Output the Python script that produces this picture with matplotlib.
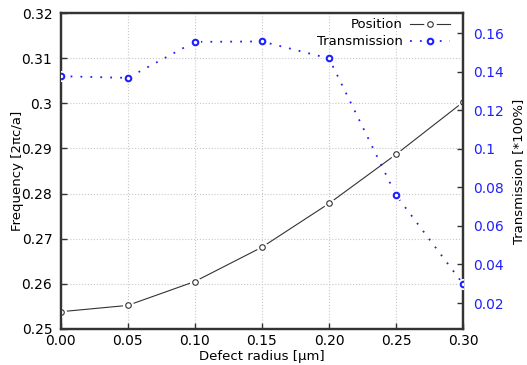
import matplotlib
matplotlib.use("Agg")
import matplotlib.pyplot as plt
from matplotlib.ticker import FormatStrFormatter, FuncFormatter

radius = [0.00, 0.05, 0.10, 0.15, 0.20, 0.25, 0.30]
position = [0.2538, 0.2552, 0.2605, 0.2681, 0.2778, 0.2887, 0.3003]
transmission = [0.1377, 0.1368, 0.1555, 0.1557, 0.1469, 0.0759, 0.0298]

x_ticks = [0.00, 0.05, 0.10, 0.15, 0.20, 0.25, 0.30]
left_ticks = [0.25, 0.26, 0.27, 0.28, 0.29, 0.30, 0.31, 0.32]
right_ticks = [0.02, 0.04, 0.06, 0.08, 0.10, 0.12, 0.14, 0.16]

plt.rcParams['font.family'] = ['DejaVu Sans']
plt.rcParams['font.size'] = 9.5

fig = plt.figure(figsize=(5.27, 3.65), dpi=100)
ax = fig.add_axes([0.115, 0.099, 0.764, 0.865])
ax2 = ax.twinx()

gray = '#333333'
blue = '#2020ff'
dot = (0, (1, 4.5))

# Position
ax.plot(radius, position, '-', color=gray, lw=0.8, zorder=2)
ax.plot(radius, position, 'o', ms=7, mfc='white', mec='white', zorder=3)
ax.plot(radius, position, 'o', ms=4, mfc='white', mec=gray, mew=0.8, zorder=4)
p_line, = ax.plot([], [], color=gray, lw=0.8)
p_halo, = ax.plot([], [], 'o', ms=8, mfc='white', mec='white')
p_mark, = ax.plot([], [], 'o', ms=4, mfc='white', mec=gray, mew=0.8)

# Transmission
ax2.plot(radius, transmission, color=blue, lw=1.3, ls=dot, zorder=2)
ax2.plot(radius, transmission, 'o', ms=7, mfc='white', mec='white', zorder=3)
ax2.plot(radius, transmission, 'o', ms=4, mfc='white', mec=blue, mew=1.5, zorder=4)
t_line, = ax2.plot([], [], color=blue, lw=1.3, ls=dot)
t_halo, = ax2.plot([], [], 'o', ms=8, mfc='white', mec='white')
t_mark, = ax2.plot([], [], 'o', ms=4, mfc='white', mec=blue, mew=1.5)

ax.set_xlim(0, 0.30)
ax.set_ylim(0.25, 0.32)
ax2.set_ylim(0.0066, 0.1704)
ax.set_xticks(x_ticks)
ax.set_yticks(left_ticks)
ax2.set_yticks(right_ticks)
ax.xaxis.set_major_formatter(FormatStrFormatter('%.2f'))
ax.yaxis.set_major_formatter(FuncFormatter(lambda v, p: f'{v:g}'))
ax2.yaxis.set_major_formatter(FuncFormatter(lambda v, p: f'{v:g}'))

ax.grid(True, linestyle=':', color='#c8c8c8', lw=0.8)
ax.set_axisbelow(True)

for a in (ax, ax2):
    for s in a.spines.values():
        s.set_color(gray)
        s.set_linewidth(1.6)
ax.tick_params(axis='x', direction='in', length=4, width=1, color=gray,
               labelsize=10, pad=4)
ax.tick_params(axis='y', direction='in', length=4, width=1, color=gray,
               labelsize=10, pad=6)
ax2.tick_params(direction='in', length=4, width=1, color=gray,
                labelcolor=blue, labelsize=10, pad=7)

ax.set_xlabel('Defect radius [µm]', labelpad=1)
ax.set_ylabel('Frequency [2πc/a]', labelpad=-2)
ax2.set_ylabel('Transmission [*100%]', labelpad=6)

ax.legend([(p_line, p_halo, p_mark), (t_line, t_halo, t_mark)],
          ['Position', 'Transmission'], loc='upper right',
          bbox_to_anchor=(0.98, 1.0), frameon=False, markerfirst=False,
          handlelength=3.0, handletextpad=0.6, borderaxespad=0.2,
          borderpad=0.2, labelspacing=0.3, fontsize=9.5)

fig.savefig('out.png', dpi=100)
